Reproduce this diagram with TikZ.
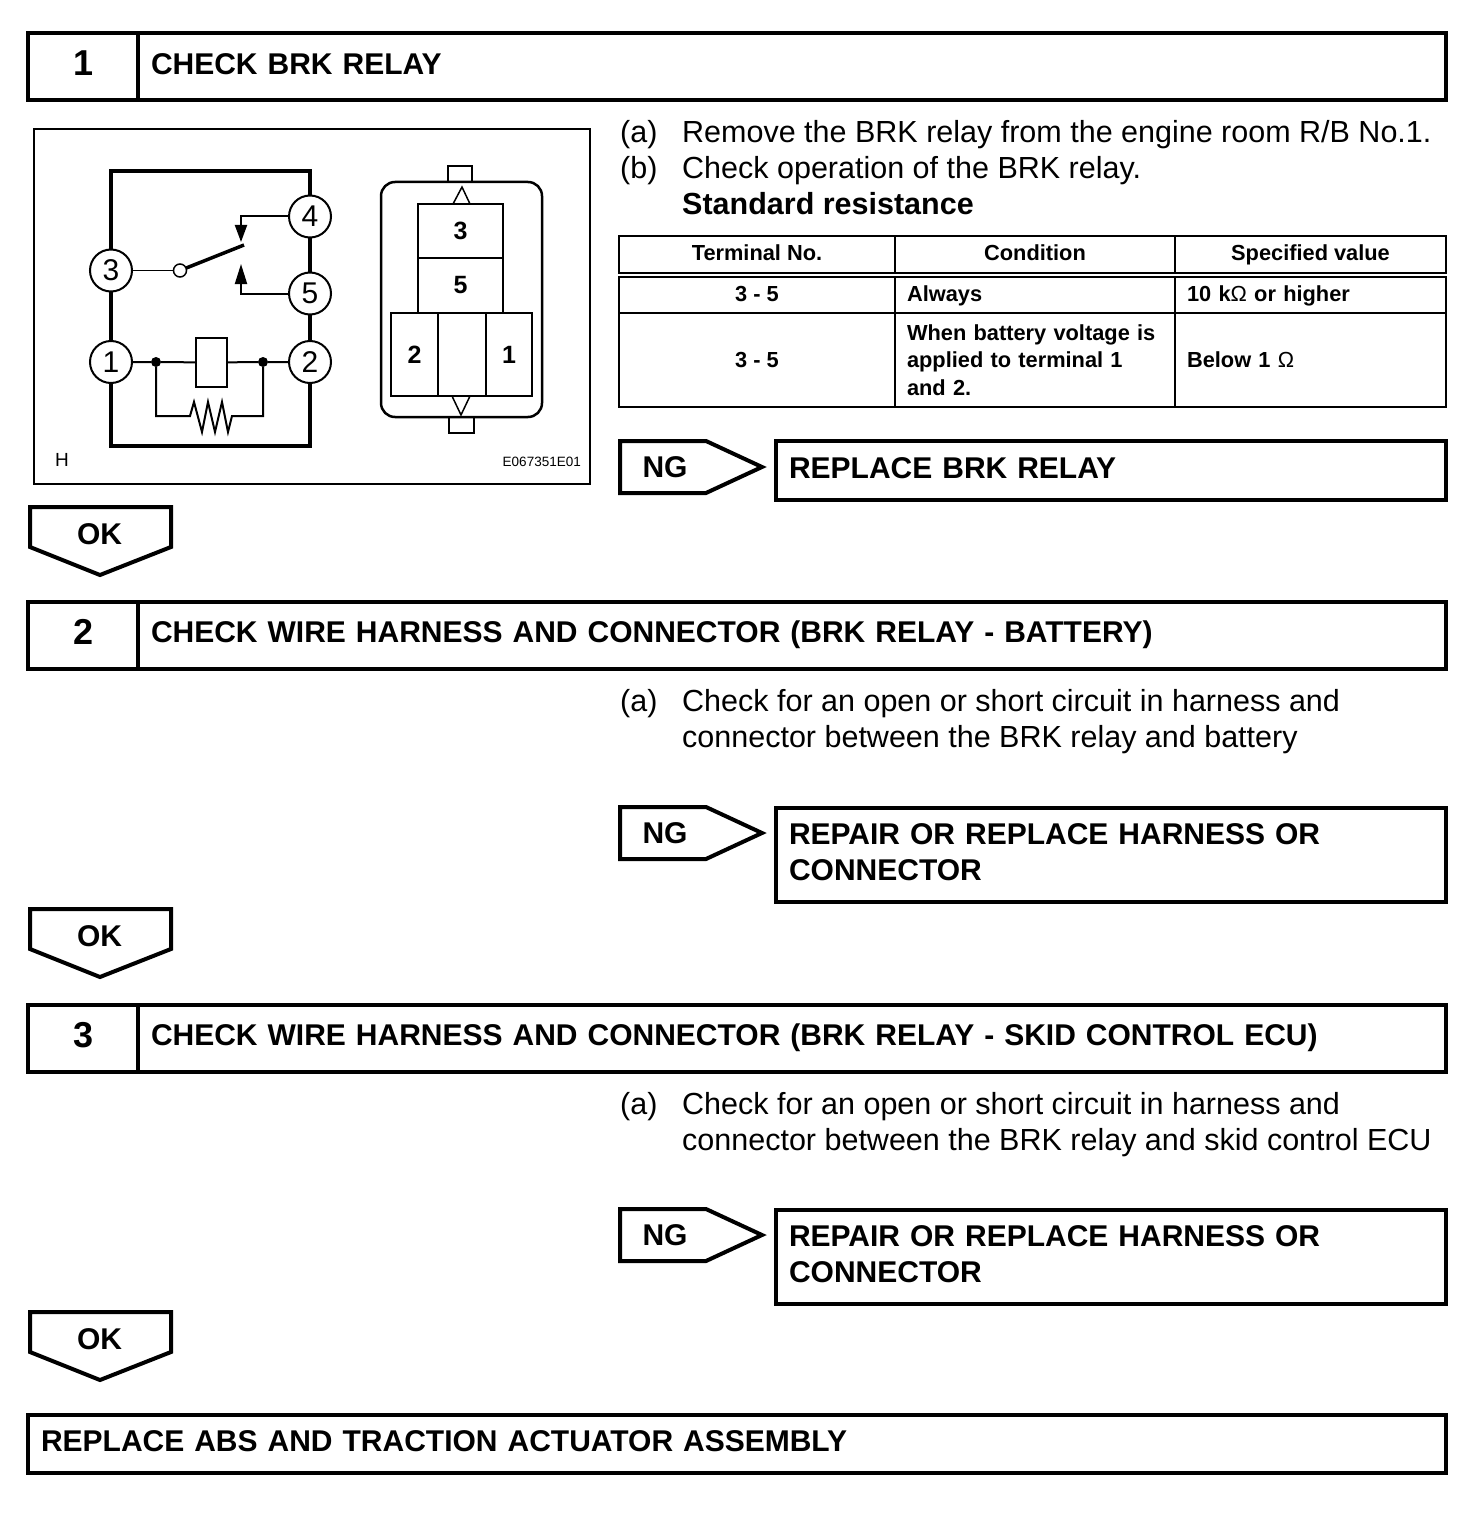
\documentclass[tikz,border=0pt]{standalone}
\usepackage{fontspec}
\setmainfont{Liberation Sans}
\usetikzlibrary{positioning,arrows.meta}

\tikzset{
  numbox/.style={draw, line width=4pt, outer sep=0pt, minimum width=110pt, minimum height=67pt, text height=25pt, text depth=7pt, inner sep=0pt, font=\fontsize{36}{36}\selectfont\bfseries},
  titlebox/.style={draw, line width=4pt, outer sep=0pt, minimum height=67pt, text width=1282pt, inner xsep=13pt, inner ysep=0pt, align=left, text height=21.5pt, text depth=6pt, font=\fontsize{30}{36}\selectfont\bfseries},
  fixbox/.style={draw, line width=4pt, outer sep=0pt, anchor=north west, text width=644pt, inner xsep=13pt, inner ysep=0pt, align=left, font=\fontsize{30}{36}\selectfont\bfseries},
  flowline/.style={line width=4pt, line join=miter},
  flowlabel/.style={inner sep=0pt, font=\fontsize{30}{36}\selectfont\bfseries},
  bodytext/.style={inner sep=0pt, anchor=north west, align=left, font=\fontsize{30.5}{36}\selectfont},
  cell/.style={draw, line width=2pt, outer sep=0pt, inner xsep=12pt, inner ysep=0pt, font=\fontsize{21.8}{27.5}\selectfont\bfseries},
  oneline/.style={text height=16pt, text depth=4pt},
  term/.style={circle, draw, fill=white, line width=2pt, outer sep=0pt, inner sep=0pt, minimum size=42pt, font=\fontsize{30}{30}\selectfont},
  pinbox/.style={draw, line width=2pt, outer sep=0pt, inner sep=0pt, font=\fontsize{25}{25}\selectfont\bfseries},
  wire/.style={line width=2pt},
  thickwire/.style={line width=4.5pt},
  dot/.style={circle, fill=black, outer sep=0pt, inner sep=0pt, minimum size=10pt},
  mark label/.style={inner sep=0pt}
}

\begin{document}
\begin{tikzpicture}[x=1pt, y=-1pt, node distance=0pt]
  \useasboundingbox (0,0) rectangle (1472,1522);

  \node[numbox] (n1) at (83,66.5) {\hspace{2pt}1};
  \node[titlebox] (t1) [right=of n1] {CHECK BRK RELAY};
  \node[numbox] (n2) at (83,635) {\hspace{2pt}2};
  \node[titlebox] (t2) [right=of n2] {CHECK WIRE HARNESS AND CONNECTOR (BRK RELAY - BATTERY)};
  \node[numbox] (n3) at (83,1038) {\hspace{2pt}3};
  \node[titlebox] (t3) [right=of n3] {CHECK WIRE HARNESS AND CONNECTOR (BRK RELAY - SKID CONTROL ECU)};
  \node[draw, line width=4pt, outer sep=0pt, anchor=north west, minimum height=58pt, text width=1392pt, inner xsep=13pt, inner ysep=0pt, align=left, text height=21.5pt, text depth=6pt, font=\fontsize{30}{36}\selectfont\bfseries] (last) at (28,1415) {REPLACE ABS AND TRACTION ACTUATOR ASSEMBLY};

  \draw[line width=2.5pt] (34,129) rectangle (590,484);
  \coordinate (tl) at (111,171);
  \coordinate (tr) at (310,171);
  \coordinate (bl) at (111,446);
  \coordinate (br) at (310,446);
  \node[term] (c3) at (111,270.5) {3};
  \node[term] (c4) at (310,216.5) {4};
  \node[term] (c5) at (310,293.5) {5};
  \node[term] (c1) at (111,362) {1};
  \node[term] (c2) at (310,362) {2};
  \draw[thickwire] (c3) -- (tl) -- (tr) -- (c4);
  \draw[thickwire] (c1) -- (bl) -- (br) -- (c2);
  \path[thickwire]
    (c3) edge (c1)
    (c4) edge (c5)
    (c5) edge (c2);
  \node[circle, draw, line width=1.5pt, inner sep=0pt, outer sep=0pt, minimum size=13pt] (pivot) at (180,270.5) {};
  \coordinate (blade) at (244,245);
  \coordinate (up) at (241,242);
  \coordinate (down) at (241,264);
  \draw[line width=1.5pt] (c3) -- (pivot);
  \draw[line width=3.5pt] (pivot) -- (blade);
  \draw[wire, -{Triangle[length=17pt,width=12pt]}] (c4) -| (up);
  \draw[wire, -{Triangle[length=20pt,width=12pt]}] (c5) -| (down);
  \node[draw, line width=2pt, outer sep=0pt, inner sep=0pt, minimum width=31pt, minimum height=49pt] (coil) at (211.5,362.5) {};
  \node[dot] (d1) at (156,362) {};
  \node[dot] (d2) at (263,362) {};
  \coordinate (r1) at (190,416);
  \coordinate (r2) at (232,416);
  \draw[wire] (c1) -- (d1) -- (coil) -- (d2) -- (c2);
  \draw[wire] (d1) |- (r1) -- (194,402) -- (202,432) -- (208,402) -- (215,432) -- (222,402) -- (228,432) -- (r2) -| (d2);
  \node[mark label, font=\fontsize{19}{19}\selectfont] (hmark) at (62,460) {H};
  \node[mark label, anchor=east, font=\fontsize{13.5}{14}\selectfont] (code) at (581,462) {E067351E01};

  \draw[line width=2.5pt, rounded corners=14pt] (381,182) rectangle (542,417);
  \draw[line width=2.5pt] (448,182) |- (472,166) -- (472,182);
  \draw[line width=2.5pt] (449,417) |- (474,433) -- (474,417);
  \node[pinbox, anchor=north west, minimum width=85pt, minimum height=54pt] (p3) at (418,204) {3};
  \node[pinbox, minimum width=85pt, minimum height=55pt] (p5) [below=of p3] {5};
  \node[pinbox, anchor=north west, minimum width=47pt, minimum height=83pt] (p2) at (391,313) {2};
  \node[pinbox, minimum width=48pt, minimum height=83pt] (pm) [right=of p2] {};
  \node[pinbox, minimum width=46pt, minimum height=83pt] (p1) [right=of pm] {1};
  \draw[wire, line width=1.5pt] (453,204) -- (462,187) -- (470,204);
  \draw[wire, line width=1.5pt] (452,396) -- (461,415) -- (470,396);

  \node[bodytext] (a1) at (620,120.5) {(a)\\(b)};
  \node[bodytext] (s1) at (682,120.5) {Remove the BRK relay from the engine room R/B No.1.\\Check operation of the BRK relay.\\\textbf{Standard resistance}};

  \node[cell, oneline, anchor=north west, minimum width=276pt, minimum height=37pt] (h1) at (619,236) {Terminal No.};
  \node[cell, oneline, minimum width=280pt, minimum height=37pt] (h2) [right=of h1] {Condition};
  \node[cell, oneline, minimum width=271pt, minimum height=37pt] (h3) [right=of h2] {Specified value};
  \node[cell, oneline, anchor=north west, minimum width=276pt, minimum height=36pt] (a2) at (619,277) {3 - 5};
  \node[cell, oneline, minimum width=280pt, minimum height=36pt, text width=256pt, align=left] (b2) [right=of a2] {Always};
  \node[cell, oneline, minimum width=271pt, minimum height=36pt, text width=247pt, align=left] (c2a) [right=of b2] {10 k{\mdseries Ω} or higher};
  \node[cell, minimum width=276pt, minimum height=94pt] (a3) [below=of a2] {3 - 5};
  \node[cell, minimum width=280pt, minimum height=94pt, text width=256pt, align=left] (b3) [right=of a3] {When battery voltage is\\applied to terminal 1\\and 2.};
  \node[cell, minimum width=271pt, minimum height=94pt, text width=247pt, align=left] (c3a) [right=of b3] {Below 1 {\mdseries Ω}};

  \foreach \y/\name in {441/a,807/b,1209/c}{
    \draw[flowline] (620,\y) -- (706,\y) -- (762,\y+26) -- (706,\y+52) -- (620,\y+52) -- cycle;
    \node[flowlabel] (ng\name) at (665,\y+26) {NG};
  }
  \foreach \y/\name in {507/a,909/b,1312/c}{
    \draw[flowline] (30,\y) -- (171,\y) -- (171,\y+40) -- (100,\y+68) -- (30,\y+40) -- cycle;
    \node[flowlabel] (ok\name) at (99.5,\y+27) {OK};
  }
  \node[fixbox, minimum height=59pt, text depth=5pt] (fix1) at (776,441) {REPLACE BRK RELAY};
  \node[fixbox, minimum height=94pt, text depth=42pt] (fix2) at (776,808) {REPAIR OR REPLACE HARNESS OR\\CONNECTOR};
  \node[fixbox, minimum height=94pt, text depth=42pt] (fix3) at (776,1210) {REPAIR OR REPLACE HARNESS OR\\CONNECTOR};

  \node[bodytext] (a4) at (620,689.5) {(a)};
  \node[bodytext] (s4) at (682,689.5) {Check for an open or short circuit in harness and\\connector between the BRK relay and battery};
  \node[bodytext] (a5) at (620,1092.5) {(a)};
  \node[bodytext] (s5) at (682,1092.5) {Check for an open or short circuit in harness and\\connector between the BRK relay and skid control ECU};
\end{tikzpicture}
\end{document}
